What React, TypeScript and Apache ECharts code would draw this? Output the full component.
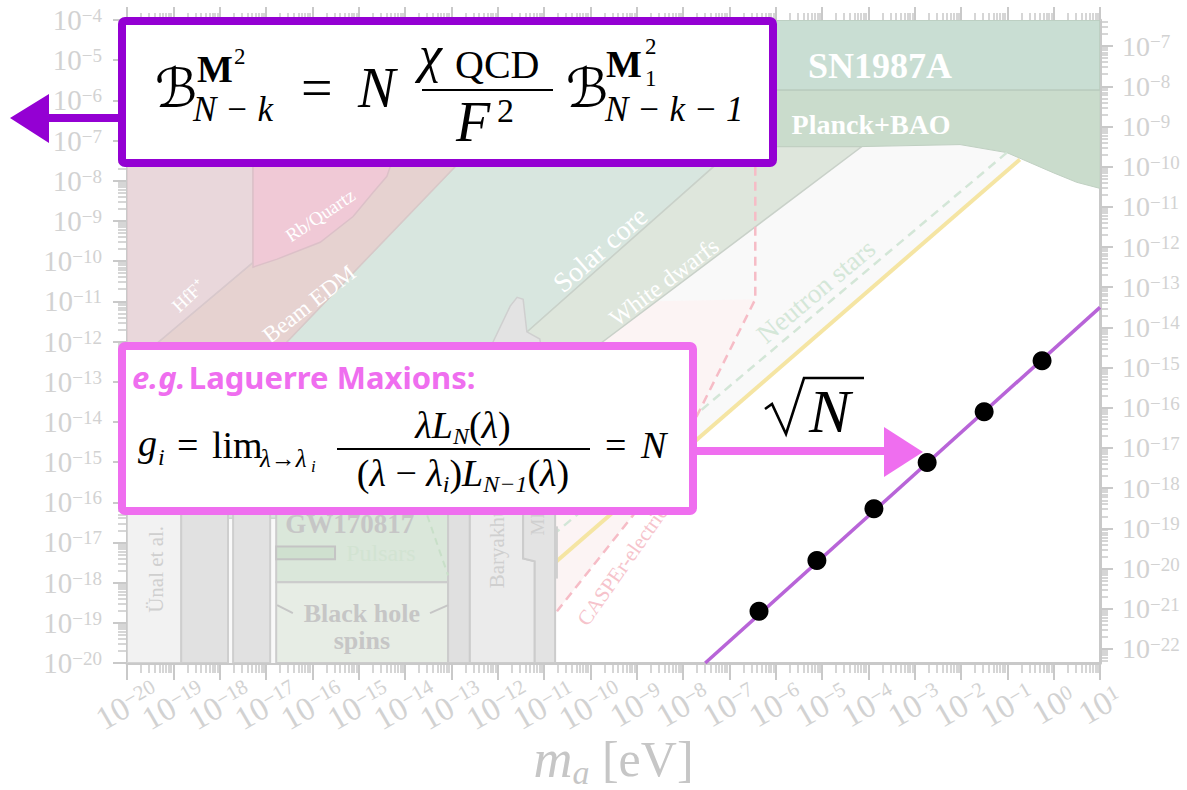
import React, { useEffect, useRef } from "react";
import * as echarts from "echarts";

// ---------- axis data (decade exponents) ----------
const massDecades = [-20, -19, -18, -17, -16, -15, -14, -13, -12, -11, -10, -9, -8, -7, -6, -5, -4, -3, -2, -1, 0, 1];
const massLabelsEven = [-20, -18, -16, -14, -12, -10, -8, -6, -4, -2, 0];
const massLabelsOdd = [-19, -17, -15, -13, -11, -9, -7, -5, -3, -1, 1];
const leftDecades = [-20, -19, -18, -17, -16, -15, -14, -13, -12, -11, -10, -9, -8, -7, -6, -5, -4];
const rightDecades = [-22, -21, -20, -19, -18, -17, -16, -15, -14, -13, -12, -11, -10, -9, -8, -7];
const massRange = [-20, 1];
const leftRange = [-20, -4];
const rightRange = [-22.35, -6.35];
const minorSteps = [2, 3, 4, 5, 6, 7, 8, 9];

// ---------- series data ----------
const dotMasses = [4.37e-7, 7.76e-6, 1.32e-4, 1.86e-3, 3.16e-2, 0.562];
const dotCouplings = [1.95e-19, 3.55e-18, 6.92e-17, 9.77e-16, 1.78e-14, 3.31e-13];
const lineMasses = [3.02e-8, 10];
const lineCouplings = [1e-20, 7.08e-12];

// ---------- background regions, [log10 m, log10 g] ----------
const sn1987a = [[-20, -4], [1, -4], [1, -5.74], [-20, -5.74]];
const planckBao = [[-20, -5.74], [1, -5.74], [1, -8.19], [0.5, -8.04], [-0.01, -7.8], [-1.01, -7.3], [-2.02, -7.1], [-4.14, -7.15], [-20, -7.15]];
const faintQcd = [[-20, -20], [-13.26, -20], [1, -5.74], [1, -4], [-20, -4]];
const casperFaint = [[-8.57, -11.0], [-6.44, -10.95], [-7.7, -13.85], [-9.08, -16.33], [-10.72, -18.71], [-11.2, -20], [-13.5, -20], [-13.5, -15]];
const solarCore = [[-12.5, -7.15], [-6.85, -7.15], [-15.9, -16.4], [-18.5, -16.4], [-16.55, -12.01], [-12.92, -7.65]];
const whiteDwarfs = [[-6.85, -7.15], [-4.14, -7.15], [-14.33, -16], [-15.52, -16]];
const beamEdm = [[-17.28, -7.15], [-12.5, -7.15], [-12.92, -7.65], [-16.55, -12.01], [-18.3, -14.1], [-20, -14.1], [-20, -12.67], [-17.28, -10.03]];
const hff = [[-20, -7], [-17.28, -7], [-17.28, -10.03], [-20, -12.67]];
const rbQuartz = [[-17.28, -7], [-14.3, -7], [-14.32, -7.65], [-14.39, -7.89], [-14.69, -8.29], [-15.12, -8.89], [-15.83, -9.53], [-16.76, -9.95], [-17.28, -10.15]];
const graySpike = [[-12.2, -12.6], [-12.1, -12.01], [-11.73, -11.12], [-11.58, -10.9], [-11.45, -10.95], [-11.37, -11.76], [-11.09, -11.94], [-11.0, -12.6]];
const unal = [[-20, -20], [-18.83, -20], [-18.83, -15], [-20, -15]];
const grayA = [[-18.83, -20], [-17.82, -20], [-17.82, -15], [-18.83, -15]];
const grayB = [[-17.71, -20], [-16.91, -20], [-16.91, -15], [-17.71, -15]];
const gw170817 = [[-16.78, -17.99], [-13.07, -17.99], [-13.07, -15], [-16.78, -15]];
const bhSpins = [[-16.78, -20], [-13.07, -20], [-13.07, -17.99], [-16.78, -17.99]];
const grayC = [[-13.07, -20], [-12.6, -20], [-12.6, -15], [-13.07, -15]];
const baryakhtar = [[-12.6, -20], [-11.2, -20], [-11.2, -17.47], [-11.45, -17.4], [-11.45, -15], [-12.6, -15]];
const mColumn = [[-11.45, -15], [-10.76, -15], [-10.76, -20], [-11.2, -20], [-11.2, -17.47], [-11.45, -17.4]];
const darkBar = [[-10.76, -16.6], [-10.7, -16.6], [-10.7, -17.9], [-10.76, -17.9]];
const pulsars = [[-16.78, -17.42], [-15.51, -17.42], [-15.51, -17.1], [-16.78, -17.1]];
const qcdLine = [[-13.26, -20], [-0.73, -7.47]];
const neutronDash = [[-1.01, -7.3], [-10.72, -16.73]];
const casperDash = [[-6.44, -7.65], [-6.44, -10.95], [-7.7, -13.85], [-9.08, -16.33], [-10.72, -18.71]];
const gwDash = [[-13.52, -16.33], [-13.07, -17.82]];
const bhLeft = [[-16.76, -18.56], [-16.42, -18.76]];
const bhRight = [[-13.46, -18.76], [-13.07, -18.56]];

type Region = { pts: number[][]; fill?: string; stroke?: string; width?: number; dash?: number[]; line?: boolean };
const regions: Region[] = [
  { pts: faintQcd, fill: "#f9f9f9" },
  { pts: casperFaint, fill: "#fcf4f4" },
  { pts: solarCore, fill: "#d8e6df", stroke: "#cdd6d0", width: 1.5 },
  { pts: whiteDwarfs, fill: "#dee6dc", stroke: "#c9d1c9", width: 1.5 },
  { pts: beamEdm, fill: "#e6d2d0", stroke: "#d8c8c8", width: 1.5 },
  { pts: hff, fill: "#e9d7db", stroke: "#d8c8cc", width: 1.5 },
  { pts: rbQuartz, fill: "#f0c9d6", stroke: "#dcc0c8", width: 1.5 },
  { pts: graySpike, fill: "#e3e3e3", stroke: "#cfcfcf", width: 1.5 },
  { pts: planckBao, fill: "#cadccc", stroke: "#c0d0c2", width: 1 },
  { pts: sn1987a, fill: "#c9ded3", stroke: "#b9cbbf", width: 1.5 },
  { pts: qcdLine, stroke: "#f5e5a3", width: 4, line: true },
  { pts: neutronDash, stroke: "#d3e6d7", width: 2.5, dash: [9, 6], line: true },
  { pts: casperDash, stroke: "#f6bcc6", width: 2.5, dash: [9, 6], line: true },
  { pts: unal, fill: "#f2f2f2", stroke: "#d3d3d3", width: 2 },
  { pts: grayA, fill: "#e1e1e1", stroke: "#cecece", width: 2 },
  { pts: grayB, fill: "#e1e1e1", stroke: "#cecece", width: 2 },
  { pts: gw170817, fill: "#dae7da", stroke: "#cccccc", width: 2 },
  { pts: bhSpins, fill: "#e7ede5", stroke: "#cccccc", width: 2 },
  { pts: grayC, fill: "#e0e0e0", stroke: "#cccccc", width: 2 },
  { pts: baryakhtar, fill: "#ebebeb", stroke: "#cccccc", width: 2 },
  { pts: mColumn, fill: "#e3e3e3", stroke: "#cccccc", width: 2 },
  { pts: darkBar, fill: "#cfcfcf" },
  { pts: pulsars, fill: "#cfe0cf", stroke: "#c4c4c4", width: 2 },
  { pts: gwDash, stroke: "#c8dfc8", width: 2, dash: [7, 5], line: true },
  { pts: bhLeft, stroke: "#c6c6c6", width: 2, line: true },
  { pts: bhRight, stroke: "#c6c6c6", width: 2, line: true },
];

type RegionLabel = { text: string; at: number[]; rot: number; size: number; color: string; bold?: boolean; align?: string };
const regionLabels: RegionLabel[] = [
  { text: "HfF⁺", at: [-18.68, -10.87], rot: 43, size: 19, color: "#ffffff" },
  { text: "Rb/Quartz", at: [-15.83, -8.86], rot: 34, size: 19, color: "#ffffff" },
  { text: "Beam EDM", at: [-16.07, -11.07], rot: 38, size: 23, color: "#ffffff" },
  { text: "Solar core", at: [-9.79, -9.71], rot: 41, size: 28, color: "#ffffff" },
  { text: "White dwarfs", at: [-8.41, -10.52], rot: 37, size: 24, color: "#ffffff" },
  { text: "Neutron stars", at: [-5.13, -10.75], rot: 40, size: 27, color: "#d4e7d8" },
  { text: "SN1987A", at: [-3.75, -5.14], rot: 0, size: 36, color: "#ffffff", bold: true },
  { text: "Planck+BAO", at: [-3.94, -6.6], rot: 0, size: 28, color: "#ffffff", bold: true },
  { text: "GW170817", at: [-15.19, -16.53], rot: 0, size: 27, color: "#c6c6c6", bold: true },
  { text: "Pulsars", at: [-14.52, -17.27], rot: 0, size: 24, color: "#d2e3d2" },
  { text: "Black hole", at: [-14.93, -18.77], rot: 0, size: 26, color: "#c6c6c6", bold: true },
  { text: "spins", at: [-14.93, -19.43], rot: 0, size: 26, color: "#c6c6c6", bold: true },
  { text: "Ünal et al.", at: [-19.37, -17.67], rot: 90, size: 21, color: "#cfcfcf" },
  { text: "Baryakhtar", at: [-12.01, -18.14], rot: 90, size: 21, color: "#cfcfcf", align: "left" },
  { text: "MICROSCOPE", at: [-11.15, -16.83], rot: 90, size: 19, color: "#cfcfcf", align: "left" },
  { text: "CASPEr-electric", at: [-10.18, -19.01], rot: 55, size: 21, color: "#f6c3cb", align: "left" },
];

// ---------- styling constants ----------
const SERIF = '"Liberation Serif", "Times New Roman", serif';
const SANS = '"Noto Sans", "Open Sans", sans-serif';
const AXIS = "#c9c9c9";
const LABEL = "#d2d2d2";
const PURPLE = "#9400d3";
const PINK = "#ef6eef";
const ORCHID = "#b864d8";

const minorOf = (decades: number[], lo: number, hi: number) => {
  const out: number[] = [];
  for (const d of decades.concat([decades[0] - 1])) for (const k of minorSteps) {
    const v = d + Math.log10(k);
    if (v > lo && v < hi) out.push(v);
  }
  return out;
};

const powLabel = (v: number) => `{b|10}{e|${v < 0 ? "−" + Math.abs(v) : String(v)}}`;
const labelRich = (b: number, e: number, lh = 28) => ({
  b: { fontSize: b, fontFamily: SERIF, color: LABEL, lineHeight: lh, verticalAlign: "middle" },
  e: { fontSize: e, fontFamily: SERIF, color: LABEL, lineHeight: lh, verticalAlign: "top" },
});

function tx(text: string, x: number, base: number, size: number, o: any = {}) {
  return {
    type: "text",
    z: 110,
    x,
    y: base - 0.33 * size,
    style: {
      text,
      fill: o.fill || "#000",
      fontSize: size,
      fontFamily: o.family || SERIF,
      fontStyle: o.italic ? "italic" : "normal",
      fontWeight: o.bold ? "bold" : "normal",
      align: o.align || "left",
      verticalAlign: "middle",
    },
  };
}

function mathRich(size: number, sub: number, lh: number) {
  return {
    v: { fontSize: size, fontFamily: SERIF, fontStyle: "italic", lineHeight: lh, fill: "#000" },
    u: { fontSize: size, fontFamily: SERIF, lineHeight: lh, fill: "#000" },
    s: { fontSize: sub, fontFamily: SERIF, fontStyle: "italic", lineHeight: lh, verticalAlign: "bottom", fill: "#000" },
  };
}

function buildGraphics() {
  const B = '"DejaVu Serif", "DejaVu Sans", serif';
  const els: any[] = [
    // top formula box + arrow
    { type: "line", z: 100, shape: { x1: 122, y1: 118, x2: 45, y2: 118 }, style: { stroke: PURPLE, lineWidth: 8 } },
    { type: "polygon", z: 100, shape: { points: [[10, 118], [49, 94], [49, 143]] }, style: { fill: PURPLE } },
    { type: "rect", z: 100, shape: { x: 122, y: 21, width: 651, height: 142, r: 3 }, style: { fill: "#fff", stroke: PURPLE, lineWidth: 8 } },
    tx("ℬ", 155, 106, 54, { family: B }),
    tx("M", 197, 82, 38, { bold: true }),
    tx("2", 234, 64, 23),
    tx("N − k", 193, 121, 35, { italic: true }),
    tx("=", 301, 106, 56),
    tx("N", 358, 106, 56, { italic: true }),
    tx("χ", 419, 72, 52, { italic: true }),
    tx("QCD", 455, 78, 40),
    { type: "line", z: 110, shape: { x1: 422, y1: 90, x2: 553, y2: 90 }, style: { stroke: "#000", lineWidth: 2 } },
    tx("F", 456, 140, 56, { italic: true }),
    tx("2", 497, 122, 34),
    tx("ℬ", 566, 106, 54, { family: B }),
    tx("M", 606, 77, 38, { bold: true }),
    tx("2", 645, 54, 23),
    tx("1", 645, 86, 23),
    tx("N − k − 1", 605, 121, 35, { italic: true }),

    // pink box + arrow
    { type: "line", z: 100, shape: { x1: 693, y1: 451, x2: 886, y2: 451 }, style: { stroke: PINK, lineWidth: 8 } },
    { type: "polygon", z: 100, shape: { points: [[884, 427], [884, 477], [923, 452]] }, style: { fill: PINK } },
    { type: "rect", z: 100, shape: { x: 122, y: 346, width: 571, height: 165, r: 3 }, style: { fill: "#fff", stroke: PINK, lineWidth: 8 } },
    {
      type: "text", z: 110, x: 132, y: 377,
      style: {
        text: "{i|e.g.} {r|Laguerre Maxions:}",
        verticalAlign: "middle",
        rich: {
          i: { fontSize: 31, fontFamily: SANS, fontStyle: "italic", fontWeight: "bold", fill: PINK },
          r: { fontSize: 31, fontFamily: SANS, fontWeight: "bold", fill: PINK },
        },
      },
    },
    tx("g", 138, 456, 38, { italic: true }),
    tx("i", 158, 465, 24, { italic: true }),
    tx("=", 177, 458, 38),
    tx("lim", 212, 458, 38),
    tx("λ→λ", 260, 467, 25, { italic: true }),
    tx("i", 311, 472, 17, { italic: true }),
    {
      type: "text", z: 110, x: 463, y: 425,
      style: { text: "{v|λL}{s|N}{u|(}{v|λ}{u|)}", align: "center", verticalAlign: "middle", rich: mathRich(38, 24, 46) },
    },
    { type: "line", z: 110, shape: { x1: 337, y1: 449, x2: 590, y2: 449 }, style: { stroke: "#000", lineWidth: 1.8 } },
    {
      type: "text", z: 110, x: 463, y: 473,
      style: { text: "{u|(}{v|λ}{u| − }{v|λ}{s|i}{u|)}{v|L}{s|N−1}{u|(}{v|λ}{u|)}", align: "center", verticalAlign: "middle", rich: mathRich(38, 24, 46) },
    },
    tx("=", 605, 458, 38),
    tx("N", 641, 458, 38, { italic: true }),

    // sqrt(N)
    { type: "polyline", z: 110, shape: { points: [[765, 409], [772, 404], [786, 434], [804, 378], [864, 378]] }, style: { stroke: "#000", lineWidth: 2.6, fill: null } },
    tx("N", 809, 431, 62, { italic: true }),
  ];
  return els;
}

function buildOption() {
  const toLog = (ms: number[], gs: number[]) => ms.map((m, i) => [Math.log10(m), Math.log10(gs[i])]);
  const baseX = (pos: string) => ({
    type: "value", position: pos, min: massRange[0], max: massRange[1], gridIndex: 0,
    splitLine: { show: false }, axisLine: { show: false, onZero: false },
    axisLabel: { show: false }, axisTick: { show: false },
  });
  const baseY = (pos: string, r: number[]) => ({
    type: "value", position: pos, min: r[0], max: r[1], gridIndex: 0,
    splitLine: { show: false }, axisLine: { show: false, onZero: false },
    axisLabel: { show: false }, axisTick: { show: false },
  });
  const xMinor = minorOf(massDecades, massRange[0], massRange[1]);
  const lMinor = minorOf(leftDecades, leftRange[0], leftRange[1]);
  const rMinor = minorOf(rightDecades, rightRange[0], rightRange[1]);
  const xLabel = (vals: number[]) => ({
    show: true, customValues: vals, formatter: powLabel, rotate: 30, margin: 42,
    showMinLabel: true, showMaxLabel: true, hideOverlap: false,
    align: "center", verticalAlign: "middle", rich: labelRich(33, 21, 30),
  });

  return {
    animation: false,
    backgroundColor: "#ffffff",
    grid: { left: 127, right: 87, top: 20, bottom: 127, containLabel: false, outerBoundsMode: "none" },
    xAxis: [
      {
        ...baseX("bottom"),
        axisLine: { show: true, onZero: false, lineStyle: { color: AXIS, width: 3 } },
        axisTick: { show: true, customValues: massDecades, length: 17, lineStyle: { color: AXIS, width: 2 } },
        axisLabel: xLabel(massLabelsEven),
        name: "{m|m}{a|a}{u| [eV]}",
        nameLocation: "middle",
        nameGap: 66,
        nameMoveOverlap: false,
        nameTextStyle: {
          rich: {
            m: { fontSize: 54, fontFamily: SERIF, fontStyle: "italic", color: "#c6c6c6", lineHeight: 60 },
            a: { fontSize: 34, fontFamily: SERIF, fontStyle: "italic", color: "#c6c6c6", lineHeight: 60, verticalAlign: "bottom" },
            u: { fontSize: 50, fontFamily: SERIF, color: "#c6c6c6", lineHeight: 60 },
          },
        },
      },
      {
        ...baseX("bottom"),
        axisTick: { show: true, customValues: xMinor, length: 10, lineStyle: { color: AXIS, width: 1.5 } },
        axisLabel: xLabel(massLabelsOdd),
      },
      {
        ...baseX("top"),
        axisLine: { show: true, onZero: false, lineStyle: { color: "#dedede", width: 1 } },
        axisTick: { show: true, customValues: massDecades, length: 13, lineStyle: { color: AXIS, width: 2 } },
      },
      { ...baseX("top"), axisTick: { show: true, customValues: xMinor, length: 7, lineStyle: { color: AXIS, width: 1.5 } } },
    ],
    yAxis: [
      {
        ...baseY("left", leftRange),
        axisLine: { show: true, onZero: false, lineStyle: { color: AXIS, width: 3 } },
        axisTick: { show: true, customValues: leftDecades, length: 14, lineStyle: { color: AXIS, width: 2 } },
        axisLabel: {
          show: true, customValues: leftDecades, formatter: powLabel, margin: 25, align: "right",
          showMinLabel: true, showMaxLabel: true, rich: labelRich(29, 19),
        },
      },
      { ...baseY("left", leftRange), axisTick: { show: true, customValues: lMinor, length: 9, lineStyle: { color: AXIS, width: 1.5 } } },
      {
        ...baseY("right", rightRange),
        axisLine: { show: true, onZero: false, lineStyle: { color: AXIS, width: 3 } },
        axisTick: { show: true, customValues: rightDecades, length: 13, lineStyle: { color: AXIS, width: 2 } },
        axisLabel: {
          show: true, customValues: rightDecades, formatter: powLabel, margin: 22, align: "left",
          showMinLabel: true, showMaxLabel: true, rich: labelRich(28, 19),
        },
      },
      { ...baseY("right", rightRange), axisTick: { show: true, customValues: rMinor, length: 8, lineStyle: { color: AXIS, width: 1.5 } } },
    ],
    series: [
      {
        type: "custom",
        xAxisIndex: 0, yAxisIndex: 0, z: 1, clip: true, silent: true,
        data: regions.map(() => [massRange[0], leftRange[0]]),
        renderItem: (params: any, api: any) => {
          const r = regions[params.dataIndex];
          const points = r.pts.map((p) => api.coord(p));
          if (r.line) {
            return { type: "polyline", shape: { points }, style: { stroke: r.stroke, lineWidth: r.width, lineDash: r.dash || null, fill: null } };
          }
          return { type: "polygon", shape: { points }, style: { fill: r.fill, stroke: r.stroke || null, lineWidth: r.width || 0 } };
        },
      },
      {
        type: "custom",
        xAxisIndex: 0, yAxisIndex: 0, z: 3, silent: true,
        data: regionLabels.map(() => [massRange[0], leftRange[0]]),
        renderItem: (params: any, api: any) => {
          const L = regionLabels[params.dataIndex];
          const [x, y] = api.coord(L.at);
          return {
            type: "text", x, y, rotation: (L.rot * Math.PI) / 180,
            style: {
              text: L.text, fill: L.color, fontSize: L.size, fontFamily: SERIF,
              fontWeight: L.bold ? "bold" : "normal", align: L.align || "center", verticalAlign: "middle",
            },
          };
        },
      },
      {
        type: "line", xAxisIndex: 0, yAxisIndex: 0, z: 5, symbol: "none",
        data: toLog(lineMasses, lineCouplings),
        lineStyle: { color: ORCHID, width: 3.5 },
      },
      {
        type: "scatter", xAxisIndex: 0, yAxisIndex: 0, z: 6, symbolSize: 19,
        data: toLog(dotMasses, dotCouplings),
        itemStyle: { color: "#000", opacity: 1 },
      },
    ],
    graphic: { elements: buildGraphics() },
  };
}

export default function App() {
  const ref = useRef<HTMLDivElement>(null);
  useEffect(() => {
    if (!ref.current) return;
    const chart = echarts.init(ref.current, null, { renderer: "svg" });
    chart.setOption(buildOption() as any);
    return () => chart.dispose();
  }, []);
  return (
    <div
      ref={ref}
      style={{ position: "fixed", left: 0, top: 0, width: 1187, height: 790, background: "#fff" }}
    />
  );
}
